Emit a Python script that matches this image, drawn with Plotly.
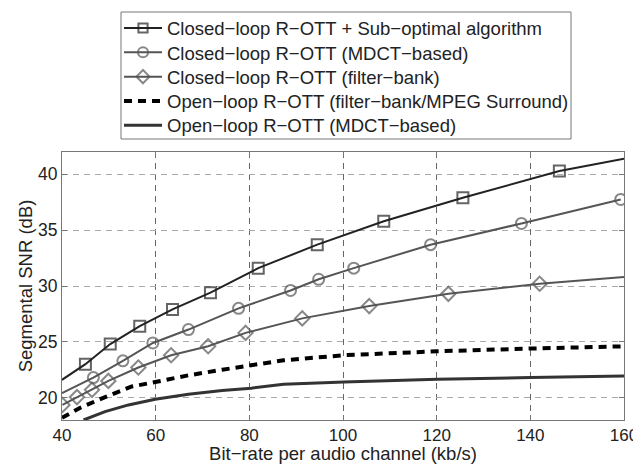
import plotly.graph_objects as go

# ---- data ----
sub_x = [40, 45.0, 50.3, 56.6, 63.6, 71.7, 81.9, 94.5, 108.7, 125.6, 146.2, 160]
sub_y = [21.6, 23.0, 24.8, 26.4, 27.9, 29.4, 31.6, 33.7, 35.8, 37.9, 40.3, 41.4]
sub_mk = [0, 1, 1, 1, 1, 1, 1, 1, 1, 1, 1, 0]

mdct_x = [40, 46.7, 53.0, 59.4, 67.0, 77.7, 88.8, 94.8, 102.3, 118.7, 138.1, 159.3]
mdct_y = [20.4, 21.8, 23.3, 24.9, 26.1, 28.0, 29.6, 30.6, 31.6, 33.7, 35.6, 37.75]
mdct_mk = [0, 1, 1, 1, 1, 1, 1, 1, 1, 1, 1, 1]

fb_x = [40.1, 43.2, 46.4, 49.9, 56.3, 63.3, 71.2, 79.2, 91.3, 105.6, 122.5, 142.0, 160]
fb_y = [19.35, 20.05, 20.7, 21.5, 22.7, 23.8, 24.6, 25.8, 27.1, 28.2, 29.3, 30.2, 30.8]
fb_mk = [1, 1, 1, 1, 1, 1, 1, 1, 1, 1, 1, 1, 0]

ol_fb_x = [40, 43.9, 49.2, 54.9, 59.9, 67.0, 74.2, 80.0, 87.3, 94.5, 100.2, 108.7, 120.0, 140.0, 160]
ol_fb_y = [18.2, 19.1, 20.05, 21.0, 21.4, 22.0, 22.5, 22.9, 23.35, 23.6, 23.8, 23.95, 24.15, 24.4, 24.6]

ol_mdct_x = [44.6, 49.2, 54.2, 59.9, 67.0, 74.2, 80.4, 87.3, 100.2, 120.1, 140.0, 160]
ol_mdct_y = [18.0, 18.75, 19.35, 19.85, 20.3, 20.65, 20.85, 21.2, 21.4, 21.65, 21.8, 21.95]

names = [
    "Closed−loop R−OTT + Sub−optimal algorithm",
    "Closed−loop R−OTT (MDCT−based)",
    "Closed−loop R−OTT (filter−bank)",
    "Open−loop R−OTT (filter−bank/MPEG Surround)",
    "Open−loop R−OTT (MDCT−based)",
]

x_ticks = [40, 60, 80, 100, 120, 140, 160]
y_ticks = [20, 25, 30, 35, 40]

MS = 11
FONT = "Liberation Sans, Arial, sans-serif"

# the page body adds an 8px offset; the figure is sized to fit the window
W, H = 633, 456
ML, MR, MT, MB = 54, 17, 144, 44
PW, PH = W - ML - MR, H - MT - MB


def px_x(xf):   # figure pixel -> paper x
    return (xf - ML) / PW


def px_y(yf):   # figure pixel -> paper y
    return (MT + PH - yf) / PH


fig = go.Figure()


def sizes(mask):
    return [MS if m else 0 for m in mask]


legend_ids = ["legend", "legend2", "legend3", "legend4", "legend5"]

fig.add_trace(go.Scatter(
    x=sub_x, y=sub_y, name=names[0], mode="lines+markers", legend=legend_ids[0],
    line=dict(color="#222222", width=2),
    marker=dict(symbol="square-open", size=sizes(sub_mk), color="#222222",
                line=dict(width=2, color="#222222")),
))
fig.add_trace(go.Scatter(
    x=mdct_x, y=mdct_y, name=names[1], mode="lines+markers", legend=legend_ids[1],
    line=dict(color="#555555", width=2),
    marker=dict(symbol="circle-open", size=sizes(mdct_mk), color="#555555",
                line=dict(width=2, color="#555555")),
))
fig.add_trace(go.Scatter(
    x=fb_x, y=fb_y, name=names[2], mode="lines+markers", legend=legend_ids[2],
    line=dict(color="#555555", width=2),
    marker=dict(symbol="diamond-open", size=sizes(fb_mk), color="#555555",
                line=dict(width=2, color="#555555")),
))
fig.add_trace(go.Scatter(
    x=ol_fb_x, y=ol_fb_y, name=names[3], mode="lines", legend=legend_ids[3],
    line=dict(color="#000000", width=4, dash="8px,6px"),
))
fig.add_trace(go.Scatter(
    x=ol_mdct_x, y=ol_mdct_y, name=names[4], mode="lines", legend=legend_ids[4],
    line=dict(color="#333333", width=3),
))

legend_cfg = {}
for i, lid in enumerate(legend_ids):
    legend_cfg[lid] = dict(
        x=px_x(111), y=px_y(20.5 + 24.3 * i), xanchor="left", yanchor="middle",
        borderwidth=0, bgcolor="rgba(0,0,0,0)",
        font=dict(family=FONT, size=18.5, color="#222222"),
        itemwidth=38,
    )

fig.update_layout(
    width=W, height=H,
    margin=dict(l=ML, r=MR, t=MT, b=MB, autoexpand=False),
    paper_bgcolor="white", plot_bgcolor="white",
    font=dict(family=FONT, size=17, color="#222222"),
    showlegend=True,
    **legend_cfg,
    shapes=[dict(
        type="rect", xref="paper", yref="paper",
        x0=px_x(113), x1=px_x(563), y0=px_y(131), y1=px_y(4),
        line=dict(color="#777777", width=1), fillcolor="rgba(0,0,0,0)",
    )],
    xaxis=dict(
        range=[40, 160], tickvals=x_ticks, ticktext=[str(v) for v in x_ticks],
        showgrid=True, gridcolor="#666666", griddash="6px,5px", gridwidth=1,
        showline=True, linecolor="#777777", linewidth=1, mirror="ticks",
        ticks="inside", ticklen=5, tickcolor="#777777",
        zeroline=False, tickfont=dict(size=17), automargin=False,
        title=dict(text="Bit−rate per audio channel (kb/s)", standoff=3,
                   font=dict(family=FONT, size=18.5)),
    ),
    yaxis=dict(
        range=[18, 42], tickvals=y_ticks, ticktext=[str(v) for v in y_ticks],
        showgrid=True, gridcolor="#aaaaaa", griddash="6px,5px", gridwidth=1,
        showline=True, linecolor="#777777", linewidth=1, mirror="ticks",
        ticks="inside", ticklen=5, tickcolor="#777777",
        zeroline=False, tickfont=dict(size=17.5), automargin=False,
        title=dict(text="Segmental SNR (dB)", standoff=0,
                   font=dict(family=FONT, size=18.5)),
    ),
)

fig.write_html("out.html")
